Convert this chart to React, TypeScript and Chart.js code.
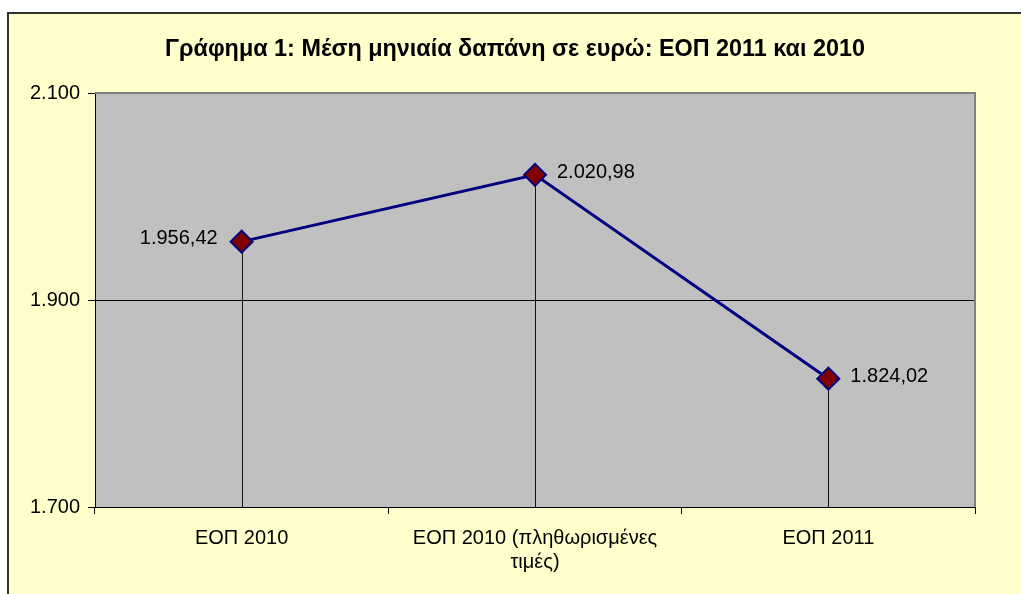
import React, { useEffect, useRef } from 'react';
import { Chart, registerables } from 'chart.js';

Chart.register(...registerables);

const titleText = 'Γράφημα 1: Μέση μηνιαία δαπάνη σε ευρώ: ΕΟΠ 2011 και 2010';
const categories: (string | string[])[] = [
  'ΕΟΠ 2010',
  ['ΕΟΠ 2010 (πληθωρισμένες', 'τιμές)'],
  'ΕΟΠ 2011',
];
const values: number[] = [1956.42, 2020.98, 1824.02];
const yMin = 1700;
const yMax = 2100;
const yStep = 200;
const labelSides: ('left' | 'right')[] = ['left', 'right', 'right'];

const FONT = '"Liberation Sans", Arial, sans-serif';

function formatGreek(v: number, decimals: number): string {
  const fixed = v.toFixed(decimals);
  const parts = fixed.split('.');
  const intPart = parts[0].replace(/\B(?=(\d{3})+(?!\d))/g, '.');
  return parts[1] ? intPart + ',' + parts[1] : intPart;
}

const plotBgPlugin = {
  id: 'plotBg',
  beforeDraw(chart: any) {
    const { ctx, chartArea } = chart;
    ctx.save();
    ctx.fillStyle = '#C0C0C0';
    ctx.fillRect(chartArea.left, chartArea.top, chartArea.right - chartArea.left, chartArea.bottom - chartArea.top);
    ctx.restore();
  },
};

const dropLinesPlugin = {
  id: 'dropLines',
  beforeDatasetsDraw(chart: any) {
    const { ctx, chartArea } = chart;
    ctx.save();
    // plot frame (top and right)
    ctx.strokeStyle = '#808080';
    ctx.lineWidth = 2;
    ctx.beginPath();
    ctx.moveTo(chartArea.left, chartArea.top);
    ctx.lineTo(chartArea.right, chartArea.top);
    ctx.lineTo(chartArea.right, chartArea.bottom);
    ctx.stroke();
    // drop lines
    const meta = chart.getDatasetMeta(0);
    ctx.strokeStyle = '#111';
    ctx.lineWidth = 1;
    meta.data.forEach((pt: any) => {
      const x = Math.round(pt.x) + 0.5;
      ctx.beginPath();
      ctx.moveTo(x, pt.y);
      ctx.lineTo(x, chartArea.bottom);
      ctx.stroke();
    });
    ctx.restore();
  },
};

const dataLabelsPlugin = {
  id: 'dataLabelsCustom',
  afterDatasetsDraw(chart: any) {
    const { ctx } = chart;
    const meta = chart.getDatasetMeta(0);
    ctx.save();
    ctx.font = `20px ${FONT}`;
    ctx.fillStyle = '#000';
    ctx.textBaseline = 'middle';
    meta.data.forEach((pt: any, i: number) => {
      const side = labelSides[i];
      const txt = formatGreek(values[i], 2);
      if (side === 'left') {
        ctx.textAlign = 'right';
        ctx.fillText(txt, pt.x - 24, pt.y - 3);
      } else {
        ctx.textAlign = 'left';
        ctx.fillText(txt, pt.x + 22, pt.y - 2);
      }
    });
    ctx.restore();
  },
};

export default function App() {
  const canvasRef = useRef<HTMLCanvasElement | null>(null);

  useEffect(() => {
    if (!canvasRef.current) return;
    const chart = new Chart(canvasRef.current, {
      type: 'line',
      data: {
        labels: categories as any,
        datasets: [
          {
            data: values,
            borderColor: '#000080',
            borderWidth: 3,
            tension: 0,
            pointStyle: 'rectRot',
            pointRadius: 11,
            pointBackgroundColor: '#800000',
            pointBorderColor: '#000080',
            pointBorderWidth: 2,
            yAxisID: 'y',
          },
        ],
      },
      options: {
        animation: false,
        responsive: false,
        devicePixelRatio: 1,
        layout: { padding: 0 },
        plugins: {
          legend: { display: false },
          tooltip: { enabled: false },
          title: {
            display: true,
            text: titleText,
            color: '#000',
            font: { family: FONT, size: 23.4, weight: 'bold' },
            padding: { top: 22, bottom: 29 },
          },
        },
        scales: {
          x: {
            type: 'category',
            offset: true,
            grid: { offset: true, drawOnChartArea: false, tickLength: 7, color: '#000' },
            border: { color: '#000', width: 1 },
            ticks: {
              color: '#000',
              font: { family: FONT, size: 20 },
              padding: 12,
              maxRotation: 0,
              autoSkip: false,
            },
            afterFit: (s: any) => {
              s.height = 87;
            },
          },
          y: {
            type: 'linear',
            position: 'left',
            min: yMin,
            max: yMax,
            ticks: {
              stepSize: yStep,
              color: '#000',
              font: { family: FONT, size: 20 },
              padding: 8,
              callback: (v: any) => formatGreek(Number(v), 0),
            },
            grid: { color: '#000', tickLength: 7, lineWidth: 1 },
            border: { color: '#000', width: 1 },
            afterFit: (s: any) => {
              s.width = 86;
            },
          },
          y2: {
            type: 'linear',
            position: 'right',
            display: true,
            grid: { display: false, drawTicks: false },
            ticks: { display: false },
            border: { display: false },
            afterFit: (s: any) => {
              s.width = 46;
            },
          },
        },
      } as any,
      plugins: [plotBgPlugin, dropLinesPlugin, dataLabelsPlugin],
    });
    return () => chart.destroy();
  }, []);

  return (
    <div
      style={{
        position: 'absolute',
        left: 7,
        top: 12,
        width: 1014,
        height: 582,
        boxSizing: 'border-box',
        background: '#FFFFCC',
        borderTop: '2px solid #333',
        borderLeft: '2px solid #333',
        overflow: 'hidden',
      }}
    >
      <canvas ref={canvasRef} width={1012} height={580} style={{ display: 'block', width: 1012, height: 580 }} />
    </div>
  );
}
